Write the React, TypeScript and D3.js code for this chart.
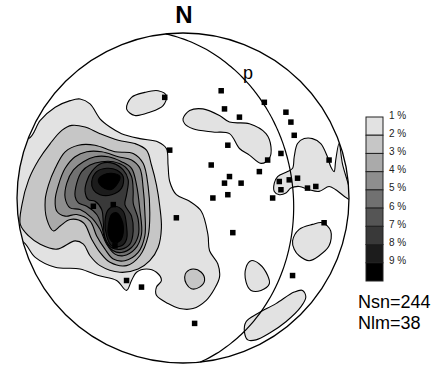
import * as d3 from "d3";

// every position is in net units: percent of the net radius, x to the east, y to the north
type Pt = [number, number];

// lineations (Nlm), drawn as squares
const lineations: Pt[] = [
  [-11, 61], [-8, 29], [17, 20], [23, 65], [49, 58], [25, 54], [34, 49],
  [62, 52], [65, 46], [67, 38], [27, 32], [51, 23], [59, 27], [88, 23],
  [46, 16], [28, 13], [25, 9], [35, 9], [58, 10], [64, 11], [69, 12],
  [59, 5], [75, 6], [80, 7], [27, 2], [18, 0], [54, 0], [85, -15],
  [30, -21], [66, -47], [-54, -5], [-42, -4], [-4, -12], [-41, -29],
  [-34, -50], [-25, -54], [7, -76],
];

// 1 % contours
const c1Main: Pt[] = [
  [-93, 36], [-86, 47], [-77, 55], [-68, 59], [-62, 60], [-56, 57], [-50, 48],
  [-44, 43], [-37, 39], [-26, 36], [-15, 34], [-10, 30], [-9, 20], [-8, 10],
  [-4, 2], [4, -2], [11, -8], [15, -22], [16, -32], [21, -40], [22, -48],
  [19, -55], [14, -62], [6, -67], [-2, -67], [-9, -64], [-16, -59], [-16, -54],
  [-13, -50], [-16, -45], [-22, -43], [-28, -45], [-31, -50], [-34, -56],
  [-40, -50], [-51, -47], [-62, -43], [-77, -42], [-89, -36], [-97, -26],
  [-110, -26], [-110, 36],
];
const c1North: Pt[] = [
  [-34, 54], [-31, 61], [-23, 64], [-15, 65], [-10, 62], [-12, 56], [-20, 52], [-29, 50],
];
const c1Centre: Pt[] = [
  [0, 48], [4, 53], [12, 54], [22, 50], [28, 46], [40, 45], [50, 39], [53, 31],
  [52, 24], [47, 21], [40, 26], [34, 30], [28, 39], [18, 40], [6, 42], [1, 45],
];
const c1East: Pt[] = [
  [55, 9], [57, 13], [63, 16], [66, 18], [67, 25], [69, 33], [73, 36], [78, 36],
  [83, 33], [87, 25], [89, 19], [91, 16], [92, 23], [94, 33], [96, 21], [101, -1],
  [92, 5], [88, 7], [82, 4], [76, 5], [70, 7], [65, 6], [62, 3], [58, 2], [55, 4],
];
const c1SouthEast: Pt[] = [
  [66, -26], [70, -19], [78, -16], [84, -15], [89, -20], [88, -29], [82, -35],
  [76, -38], [70, -35], [67, -31],
];
const c1South: Pt[] = [
  [38, -42], [41, -38], [46, -40], [51, -47], [52, -52], [47, -56], [41, -56], [38, -51],
];
const c1Rim: Pt[] = [
  [38, -75], [45, -70], [56, -64], [67, -57], [72, -56], [74, -60], [71, -66],
  [62, -75], [52, -82], [44, -86], [39, -86], [37, -81],
];

// 2 % contours
const c2Main: Pt[] = [
  [-97, -4], [-93, 11], [-87, 23], [-80, 33], [-73, 41], [-67, 44], [-59, 43],
  [-50, 39], [-39, 35], [-29, 33], [-22, 29], [-19, 20], [-16, 8], [-14, -5],
  [-13, -18], [-15, -30], [-20, -38], [-27, -43], [-38, -45], [-50, -41],
  [-56, -35], [-60, -28], [-65, -26], [-76, -31], [-86, -28], [-93, -23], [-98, -16],
];
const c2Small: Pt[] = [
  [2, -45], [6, -43], [11, -45], [13, -50], [10, -54], [5, -55], [2, -52], [1, -48],
];

// 3 % to 9 % contours round the two maxima
const c3: Pt[] = [
  [-83, -1], [-81, 8], [-77, 18], [-71, 28], [-63, 32], [-53, 32], [-41, 28],
  [-30, 27], [-24, 21], [-21, 7], [-20, -9], [-21, -23], [-26, -35], [-34, -41],
  [-44, -39], [-50, -33], [-55, -25], [-60, -15], [-68, -13], [-74, -17],
  [-78, -20], [-82, -13],
];
const c4: Pt[] = [
  [-77, -1], [-75, 8], [-71, 18], [-65, 25], [-58, 28], [-49, 28], [-39, 25],
  [-31, 23], [-26, 18], [-24, 6], [-23, -8], [-23, -23], [-27, -33], [-35, -38],
  [-42, -37], [-47, -31], [-52, -23], [-56, -14], [-64, -10], [-71, -11], [-76, -8],
];
const c5: Pt[] = [
  [-71, 0], [-70, 9], [-66, 17], [-60, 22], [-53, 25], [-45, 25], [-37, 22],
  [-31, 18], [-28, 8], [-26, -7], [-25, -22], [-29, -31], [-36, -35], [-41, -34],
  [-46, -28], [-50, -19], [-55, -12], [-62, -7], [-68, -6],
];
const c6: Pt[] = [
  [-65, 1], [-64, 9], [-61, 16], [-56, 20], [-49, 22], [-42, 22], [-35, 19],
  [-31, 13], [-30, 4], [-30, -3], [-27, -13], [-27, -23], [-31, -30], [-37, -33],
  [-42, -32], [-47, -25], [-49, -17], [-52, -10], [-58, -5], [-63, -3],
];
const c7: Pt[] = [
  [-59, 4], [-58, 10], [-55, 16], [-49, 21], [-42, 21], [-36, 17], [-33, 11],
  [-34, 2], [-35, -4], [-31, -11], [-30, -20], [-32, -28], [-37, -31], [-43, -30],
  [-47, -24], [-48, -15], [-49, -7], [-53, -2], [-57, -1],
];
const c8Upper: Pt[] = [
  [-55, 10], [-52, 16], [-46, 18], [-40, 17], [-36, 13], [-37, 6], [-43, 2], [-50, 2], [-54, 5],
];
const c8Lower: Pt[] = [
  [-47, -14], [-45, -7], [-41, -5], [-36, -8], [-34, -17], [-34, -25], [-37, -29],
  [-43, -29], [-46, -23],
];
const c9Upper: Pt[] = [
  [-51, 11], [-48, 14], [-43, 15], [-38, 13], [-40, 8], [-44, 5], [-49, 7],
];
const c9Lower: Pt[] = [
  [-45, -17], [-43, -10], [-40, -9], [-37, -13], [-36, -21], [-38, -26], [-42, -27], [-45, -22],
];

const contours: [number, Pt[]][] = [
  [1, c1Main], [1, c1North], [1, c1Centre], [1, c1East], [1, c1SouthEast],
  [1, c1South], [1, c1Rim],
  [2, c2Main], [2, c2Small],
  [3, c3], [4, c4], [5, c5], [6, c6], [7, c7],
  [8, c8Upper], [8, c8Lower], [9, c9Upper], [9, c9Lower],
];

const levels = ["1 %", "2 %", "3 %", "4 %", "5 %", "6 %", "7 %", "8 %", "9 %"];
const greys = ["#e2e2e2", "#c6c6c6", "#aaaaaa", "#8e8e8e", "#717171", "#555555", "#393939", "#1c1c1c", "#000000"];

// great circle p (dip direction / dip, degrees)
const plane = { dipDir: 84, dip: 34, label: "p" };
const nsn = 244;
const nlm = 38;

const font = "'Liberation Sans', Arial, sans-serif";

export default function App() {
  const W = 432;
  const H = 365;
  const x = d3.scaleLinear().domain([-100, 100]).range([17, 349]);
  const y = d3.scaleLinear().domain([-100, 100]).range([363, 33]);
  const cx = x(0);
  const cy = y(0);
  const rx = x(100) - x(0);
  const ry = y(-100) - y(0);

  const area = d3.line<Pt>()
    .x((d) => x(d[0]))
    .y((d) => y(d[1]))
    .curve(d3.curveCatmullRomClosed.alpha(0.5));

  // Schmidt net, lower hemisphere
  const rad = Math.PI / 180;
  const gcPts: Pt[] = d3.range(-90, 90.1, 2).map((a) => {
    const t = (plane.dipDir + a) * rad;
    const p = Math.atan(Math.tan(plane.dip * rad) * Math.cos(a * rad));
    const r = Math.SQRT2 * Math.sin((Math.PI / 2 - p) / 2) * 100;
    return [r * Math.sin(t), r * Math.cos(t)];
  });
  const gcLine = d3.line<Pt>().x((d) => x(d[0])).y((d) => y(d[1])).curve(d3.curveCatmullRom);

  const band = d3.scaleBand<string>().domain(levels).range([117, 281]);

  return (
    <svg width={W} height={H} style={{ position: "absolute", left: 0, top: 0, background: "#fff" }}>
      <defs>
        <clipPath id="net">
          <ellipse cx={cx} cy={cy} rx={rx} ry={ry} />
        </clipPath>
      </defs>
      <g clipPath="url(#net)">
        {contours.map(([lv, pts], i) => (
          <path key={i} d={area(pts) ?? ""} fill={greys[lv - 1]} stroke="#000" strokeWidth={1.1} />
        ))}
      </g>
      <path d={gcLine(gcPts) ?? ""} fill="none" stroke="#000" strokeWidth={1.2} />
      <ellipse cx={cx} cy={cy} rx={rx} ry={ry} fill="none" stroke="#000" strokeWidth={1.3} />
      {lineations.map((d, i) => (
        <rect key={i} x={x(d[0]) - 2.75} y={y(d[1]) - 2.75} width={5.5} height={5.5} fill="#000" />
      ))}
      <text x={243} y={79} fontFamily={font} fontSize={18}>{plane.label}</text>
      <text x={184} y={23} fontFamily={font} fontSize={24} fontWeight="bold" textAnchor="middle">N</text>

      {levels.map((l, i) => (
        <g key={l}>
          <rect x={366} y={band(l)} width={17} height={band.bandwidth()} fill={greys[i]} stroke="#222" strokeWidth={1} />
          <text x={389} y={(band(l) ?? 0) + 1.5} fontFamily={font} fontSize={10} fill="#222">{l}</text>
        </g>
      ))}
      <text x={358} y={308} fontFamily={font} fontSize={18}>{`Nsn=${nsn}`}</text>
      <text x={358} y={329} fontFamily={font} fontSize={18}>{`Nlm=${nlm}`}</text>
    </svg>
  );
}
